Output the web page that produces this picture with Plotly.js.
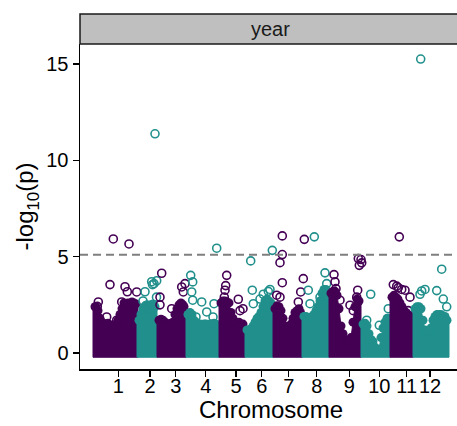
<!DOCTYPE html>
<html><head><meta charset="utf-8">
<script src="https://cdn.plot.ly/plotly-3.0.1.min.js"></script>
<style>html,body{margin:0;padding:0;background:#fff;overflow:hidden}#chart{width:457px;height:426px}</style>
</head><body><div id="chart"></div>
<script>
// Chromosome labels and tick positions (cumulative position units)
const chromosomes = ['1','2','3','4','5','6','7','8','9','10','11','12'];
const tickPos = [38.3, 70, 95.7, 125.7, 156, 181.7, 208.7, 236.7, 269.3, 299.3, 326.7, 350];
const chromColors = ['#440154', '#21908C'];
const threshold = 5.1;

// Upper envelope of the dense cloud of SNPs per chromosome (position, -log10 p)
const envPos = [
  [15,16,18,20,22,24,26,28,30,32,34,36,38,40,42,44,46,48,50,52,54,56],
  [59,61,63,65,67,69,71,73,75],
  [79,81,83,85,87,89,91,93,95,97,99,101,103,104],
  [108,110,112,114,116,118,120,122,124,126,128,130,132,134,136,137],
  [141,143,145,147,149,151,153,155,157,159,161,163],
  [167,169,171,173,175,177,179,181,183,185,187,189,191],
  [195,197,199,201,203,205,207,209,211,213,215,217,219,220.5],
  [224,226,228,230,232,234,236,238,240,242,244,246,247],
  [251,253,255,257,259,261,263,265,267,269,271,273,275,277,279],
  [283,285,287,289,291,293,295,297,299,301,303,305,307,308],
  [312,314,316,318,320,322,324,326,328,330,331],
  [335,337,339,341,343,345,347,349,351,353,355,357,359,361,363,365,367]
];
const envLogP = [
  [2.4,2.4,2.2,1.8,1.6,1.5,1.5,1.55,1.4,1.4,1.35,1.4,1.7,2.0,2.3,2.6,2.55,2.6,2.55,2.65,2.6,2.55],
  [1.7,2.0,2.3,2.4,2.5,2.4,2.5,2.55,2.4],
  [1.7,1.75,1.7,1.6,1.5,1.5,1.55,1.6,2.0,2.3,2.5,2.6,2.5,2.4],
  [2.0,2.1,2.0,1.7,1.6,1.5,1.5,1.45,1.5,1.5,1.45,1.5,1.5,1.55,1.5,1.4],
  [2.6,2.7,2.7,2.65,2.6,2.1,1.8,1.6,1.55,1.6,1.5,1.5],
  [1.2,1.2,1.25,1.4,1.6,1.8,1.9,2.1,2.4,2.7,2.8,2.7,2.6],
  [2.3,2.45,2.4,2.2,1.8,1.4,1.35,1.35,1.5,1.8,2.1,2.2,2.3,2.1],
  [1.9,1.9,1.8,1.8,1.9,2.0,2.2,2.4,2.7,3.1,3.3,3.3,3.1],
  [3.1,3.2,3.2,3.0,2.3,1.4,1.0,0.7,0.65,0.65,0.8,1.6,2.4,2.8,2.7],
  [1.5,1.55,1.4,1.0,0.7,0.6,0.3,0.13,0.2,0.8,1.3,1.6,1.8,1.8],
  [2.9,3.0,2.9,2.8,2.6,2.4,2.2,2.1,2.0,1.9,1.8],
  [2.3,2.4,2.4,2.3,1.7,1.2,1.1,1.15,1.3,1.7,1.9,2.0,2.0,2.0,1.9,1.9,1.7]
];

// Individual SNPs standing above the dense cloud
const hitChrom = [
  1,1,1,1,1,1,1,1,1,1,1,1,
  2,2,2,2,2,2,2,2,2,2,
  3,3,3,3,3,3,3,
  4,4,4,4,4,4,4,4,4,4,
  5,5,5,5,5,5,5,
  6,6,6,6,6,6,6,6,
  7,7,7,7,7,7,7,7,7,7,
  8,8,8,8,8,8,
  9,9,9,9,9,9,9,9,9,9,9,9,
  10,10,10,10,
  11,11,11,11,11,11,11,11,
  12,12,12,12,12,12,12,12,12
];
const hitPos = [
  33.3,49,30,45,47.3,18.3,17.3,41.7,56.7,26.7,36.7,33.3,
  75,65,71.7,74,76.7,63,65.5,68,76.5,72.5,
  81.7,80,80,101.7,103.3,105,91.7,
  110.7,112.7,111.7,112.7,121.7,126.7,134,136.7,116,133,
  146.7,145.7,145,144.3,158.3,160,163,
  170.7,172.3,173.3,192.3,188.3,190,183.3,180,
  202.3,202.3,200,202.3,196.7,200,223.3,220.7,224.3,218.3,
  234.3,228.3,245,246.7,230,240,
  254,255,256,260,270,273.3,278.3,281,281.7,279.3,277.7,276.7,
  290.7,286.7,299.3,308.3,
  319.3,313.3,316.7,318.3,321.7,325,330,328.3,
  340.7,361.7,356.7,341.7,345,340,363.3,350.7,366.7
];
const hitLogP = [
  5.92,5.66,3.55,3.44,3.18,2.65,2.42,2.65,3.17,1.87,1.70,1.44,
  11.38,3.18,3.7,3.6,3.75,2.7,2.45,2.3,2.9,3.55,
  4.14,2.9,2.5,3.43,3.17,3.6,2.3,
  4.03,3.69,3.17,2.74,2.65,2.13,2.56,5.44,1.87,1.87,
  4.03,3.5,3.26,2.9,2.79,2.2,2.3,
  4.78,3.26,2.56,5.33,3.2,3.3,3.05,2.8,
  6.08,5.11,4.69,3.65,3.0,2.9,3.86,3.17,5.9,2.65,
  6.03,3.26,4.16,3.6,2.56,2.9,
  4.07,3.69,3.34,2.74,2.48,2.2,4.9,4.85,4.68,4.55,3.26,2.9,
  3.05,1.7,1.44,2.3,
  6.03,3.55,3.47,3.39,3.3,3.26,2.9,2.2,
  15.26,4.35,3.24,3.22,3.3,3.05,2.8,1.18,2.4
];

const base = -0.22; // lower edge of the point cloud (marker radius below 0)
const traces = [];
chromosomes.forEach((c, i) => {
  const col = chromColors[i % 2];
  const xs = envPos[i], ys = envLogP[i];
  const x0 = xs[0] - 2, x1 = xs[xs.length - 1] + 2;
  // solid body of the cloud
  traces.push({
    type: 'scatter', mode: 'lines', fill: 'toself',
    x: [x0, x0, ...xs, x1, x1, x0],
    y: [base, ys[0], ...ys, ys[ys.length - 1], base, base],
    fillcolor: col, line: {color: col, width: 1},
    hoverinfo: 'skip', showlegend: false
  });
  // rounded, point-like top edge of the cloud
  traces.push({
    type: 'scatter', mode: 'markers', x: xs, y: ys,
    marker: {symbol: 'circle', size: 9, color: col, line: {width: 0}},
    hoverinfo: 'skip', showlegend: false
  });
  const hx = [], hy = [];
  hitChrom.forEach((h, k) => { if (h === i + 1) { hx.push(hitPos[k]); hy.push(hitLogP[k]); } });
  traces.push({
    type: 'scatter', mode: 'markers', x: hx, y: hy,
    marker: {symbol: 'circle-open', size: 8, color: col, line: {width: 1.6, color: col}},
    showlegend: false
  });
});

const font = {family: 'Liberation Sans, Arial, sans-serif', color: '#000'};
const layout = {
  width: 457, height: 426,
  margin: {l: 80, r: 0, t: 44, b: 57},
  paper_bgcolor: '#fff', plot_bgcolor: '#fff',
  showlegend: false,
  font: font,
  xaxis: {
    range: [0, 377], showgrid: false, zeroline: false,
    showline: true, linecolor: '#000', linewidth: 1.5,
    ticks: 'outside', ticklen: 6, tickwidth: 1.5, tickcolor: '#000',
    tickmode: 'array', tickvals: tickPos, ticktext: chromosomes, tickangle: 0,
    ticklabelstandoff: -8,
    tickfont: {family: font.family, size: 20, color: '#000'}
  },
  yaxis: {
    range: [-0.83, 16.04], showgrid: false, zeroline: false,
    showline: true, linecolor: '#000', linewidth: 1.5,
    ticks: 'outside', ticklen: 6, tickwidth: 1.5, tickcolor: '#000',
    tickmode: 'array', tickvals: [0, 5, 10, 15], ticktext: ['0', '5', '10', '15'],
    tickfont: {family: font.family, size: 20, color: '#000'}
  },
  shapes: [
    {type: 'line', xref: 'paper', yref: 'y', x0: 0, x1: 1, y0: threshold, y1: threshold,
     line: {color: '#7F7F7F', width: 2, dash: '8px,5px'}},
    {type: 'rect', xref: 'paper', yref: 'paper', x0: 0, x1: 1.05, y0: 1, y1: 1.0923,
     fillcolor: '#BFBFBF', line: {color: '#1a1a1a', width: 1.5}, layer: 'above'}
  ],
  annotations: [
    {text: 'year', xref: 'paper', yref: 'paper', x: 0.5066, y: 1.046, xanchor: 'center', yanchor: 'middle',
     showarrow: false, font: {family: font.family, size: 20, color: '#1a1a1a'}},
    {text: 'Chromosome', xref: 'paper', yref: 'paper', x: 0.5066, y: -0.126, xanchor: 'center', yanchor: 'middle',
     showarrow: false, font: {family: font.family, size: 24, color: '#000'}},
    {text: '-log<sub>10</sub>(p)', xref: 'paper', yref: 'paper', x: -0.1406, y: 0.5, xanchor: 'center', yanchor: 'middle',
     textangle: -90, showarrow: false, font: {family: font.family, size: 24, color: '#000'}}
  ]
};

Plotly.newPlot('chart', traces, layout, {staticPlot: true, displayModeBar: false});
</script></body></html>
